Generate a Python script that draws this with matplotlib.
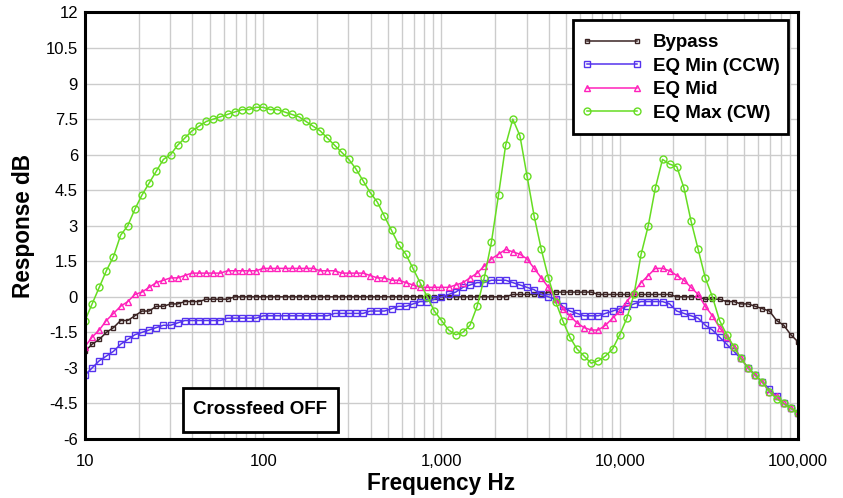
import numpy as np
import matplotlib
matplotlib.use("Agg")
import matplotlib.pyplot as plt
from matplotlib.patches import Rectangle
from matplotlib.ticker import FixedLocator, FixedFormatter, NullFormatter

plt.rcParams['font.family'] = ['Liberation Sans', 'DejaVu Sans']

# analyzer sweep: 25 points per decade, 10 Hz .. 100 kHz
freq = np.logspace(1, 5, 101)

bypass = [-2.3, -2.0, -1.8, -1.5, -1.3, -1.0, -1.0, -0.8, -0.6, -0.6,
          -0.4, -0.4, -0.3, -0.3, -0.2, -0.2, -0.2, -0.1, -0.1, -0.1,
          -0.1, 0.0, 0.0, 0.0, 0.0, 0.0, 0.0, 0.0, 0.0, 0.0,
          0.0, 0.0, 0.0, 0.0, 0.0, 0.0, 0.0, 0.0, 0.0, 0.0,
          0.0, 0.0, 0.0, 0.0, 0.0, 0.0, 0.0, 0.0, 0.0, 0.0,
          0.0, 0.0, 0.0, 0.0, 0.0, 0.0, 0.0, 0.0, 0.0, 0.0,
          0.1, 0.1, 0.1, 0.1, 0.1, 0.2, 0.2, 0.2, 0.2, 0.2,
          0.2, 0.2, 0.1, 0.1, 0.1, 0.1, 0.1, 0.1, 0.1, 0.1,
          0.1, 0.1, 0.1, 0.0, 0.0, 0.0, 0.0, -0.1, -0.1, -0.1,
          -0.2, -0.2, -0.3, -0.3, -0.4, -0.5, -0.6, -1.0, -1.2, -1.6,
          -1.9]

eq_min = [-3.3, -3.0, -2.7, -2.5, -2.3, -2.0, -1.8, -1.6, -1.5, -1.4,
          -1.3, -1.2, -1.2, -1.1, -1.0, -1.0, -1.0, -1.0, -1.0, -1.0,
          -0.9, -0.9, -0.9, -0.9, -0.9, -0.8, -0.8, -0.8, -0.8, -0.8,
          -0.8, -0.8, -0.8, -0.8, -0.8, -0.7, -0.7, -0.7, -0.7, -0.7,
          -0.6, -0.6, -0.6, -0.5, -0.4, -0.4, -0.3, -0.2, -0.2, -0.1,
          0.0, 0.1, 0.2, 0.4, 0.5, 0.6, 0.6, 0.7, 0.7, 0.7,
          0.6, 0.5, 0.4, 0.3, 0.1, 0.0, -0.1, -0.4, -0.6, -0.7,
          -0.8, -0.8, -0.8, -0.7, -0.6, -0.5, -0.4, -0.3, -0.2, -0.2,
          -0.2, -0.2, -0.3, -0.6, -0.7, -0.8, -0.9, -1.2, -1.4, -1.7,
          -2.0, -2.3, -2.6, -3.0, -3.3, -3.6, -3.9, -4.2, -4.5, -4.7,
          -4.9]

eq_mid = [-2.1, -1.7, -1.4, -1.0, -0.7, -0.4, -0.2, 0.1, 0.2, 0.4,
          0.6, 0.7, 0.8, 0.8, 0.9, 1.0, 1.0, 1.0, 1.0, 1.0,
          1.1, 1.1, 1.1, 1.1, 1.1, 1.2, 1.2, 1.2, 1.2, 1.2,
          1.2, 1.2, 1.2, 1.1, 1.1, 1.1, 1.0, 1.0, 1.0, 1.0,
          0.9, 0.8, 0.8, 0.7, 0.7, 0.6, 0.5, 0.4, 0.4, 0.4,
          0.4, 0.4, 0.5, 0.6, 0.8, 1.0, 1.3, 1.6, 1.8, 2.0,
          1.9, 1.8, 1.6, 1.2, 0.8, 0.4, -0.1, -0.5, -0.8, -1.1,
          -1.3, -1.4, -1.4, -1.2, -0.9, -0.6, -0.2, 0.2, 0.6, 0.9,
          1.2, 1.2, 1.1, 0.9, 0.7, 0.4, 0.1, -0.4, -0.8, -1.3,
          -1.7, -2.1, -2.6, -3.0, -3.3, -3.6, -4.0, -4.2, -4.5, -4.7,
          -4.9]

eq_max = [-1.0, -0.3, 0.4, 1.1, 1.7, 2.6, 3.0, 3.7, 4.3, 4.8,
          5.3, 5.8, 6.0, 6.4, 6.7, 7.0, 7.2, 7.4, 7.5, 7.6,
          7.7, 7.8, 7.9, 7.9, 8.0, 8.0, 7.9, 7.9, 7.8, 7.7,
          7.6, 7.4, 7.2, 7.0, 6.7, 6.4, 6.1, 5.8, 5.4, 4.9,
          4.4, 4.0, 3.4, 2.8, 2.2, 1.8, 1.2, 0.6, 0.0, -0.6,
          -1.0, -1.4, -1.6, -1.5, -1.2, -0.4, 0.8, 2.3, 4.3, 6.4,
          7.5, 6.8, 5.1, 3.4, 2.0, 0.8, -0.2, -1.0, -1.7, -2.2,
          -2.5, -2.8, -2.7, -2.5, -2.2, -1.6, -0.9, 0.1, 1.8, 3.0,
          4.6, 5.8, 5.6, 5.5, 4.6, 3.2, 2.0, 0.8, 0.0, -1.0,
          -1.6, -2.1, -2.6, -3.0, -3.3, -3.6, -4.0, -4.3, -4.5, -4.7,
          -4.9]

series = [
    ("Bypass", bypass, "#3b2424", "s", 3.5),
    ("EQ Min (CCW)", eq_min, "#5533ee", "s", 5),
    ("EQ Mid", eq_mid, "#ff22bb", "^", 5),
    ("EQ Max (CW)", eq_max, "#66dd22", "o", 5),
]

yticks = [-6, -4.5, -3, -1.5, 0, 1.5, 3, 4.5, 6, 7.5, 9, 10.5, 12]
xticks = [10, 100, 1000, 10000, 100000]
xlabels = ["10", "100", "1,000", "10,000", "100,000"]

fig = plt.figure(figsize=(8.43, 4.98), dpi=100)
ax = fig.add_axes([0.1008, 0.1185, 0.8458, 0.8564])

for name, vals, col, mk, ms in series:
    ax.plot(freq, vals, color=col, lw=1.1, marker=mk, ms=ms,
            mfc="none", mec=col, mew=1.0, label=name)

ax.set_xscale("log")
ax.set_xlim(10, 100000)
ax.set_ylim(-6, 12)

ax.xaxis.set_major_locator(FixedLocator(xticks))
ax.xaxis.set_major_formatter(FixedFormatter(xlabels))
minors = [m * 10 ** d for d in range(1, 5) for m in range(2, 10)]
ax.xaxis.set_minor_locator(FixedLocator(minors))
ax.xaxis.set_minor_formatter(NullFormatter())
ax.set_yticks(yticks)
ax.set_yticklabels(["%g" % t for t in yticks])

ax.grid(True, which="both", color="#cccccc", lw=1.0)
ax.set_axisbelow(True)
ax.tick_params(which="both", length=0, labelsize=12)
ax.tick_params(axis="x", pad=11)
ax.tick_params(axis="y", pad=5)

for sp in ax.spines.values():
    sp.set_linewidth(2.2)
    sp.set_color("black")

ax.set_xlabel("Frequency Hz", fontsize=16.3, fontweight="bold", labelpad=2)
ax.set_ylabel("Response dB", fontsize=16.3, fontweight="bold", labelpad=8)

# legend box drawn separately (taller padding than wide)
ax.add_patch(Rectangle((0.6844, 0.7151), 0.3016, 0.2673, transform=ax.transAxes,
                       fc="white", ec="black", lw=2, zorder=4.5))
leg = ax.legend(loc="upper left", bbox_to_anchor=(0.6957, 0.949),
                numpoints=2, handlelength=3.3, frameon=False,
                prop={"weight": "bold", "size": 13.5},
                borderpad=0, labelspacing=0.34, handletextpad=0.55,
                borderaxespad=0)
leg.set_zorder(5)

ax.add_patch(Rectangle((0.1374, 0.0164), 0.2174, 0.1032, transform=ax.transAxes,
                       fc="white", ec="black", lw=2, zorder=4.5))
ax.text(0.246, 0.068, "Crossfeed OFF", transform=ax.transAxes,
        fontsize=13.5, fontweight="bold", ha="center", va="center", zorder=5)

fig.savefig("out.png", dpi=100)
